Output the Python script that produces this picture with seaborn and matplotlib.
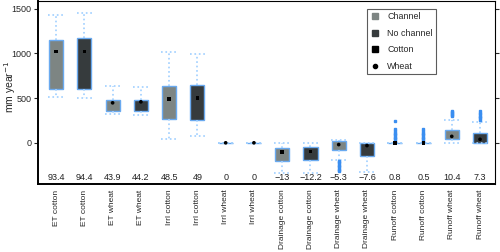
import numpy as np
import pandas as pd
import matplotlib
matplotlib.use("Agg")
import matplotlib.pyplot as plt
import seaborn as sns
from matplotlib.lines import Line2D

categories = ["ET cotton", "ET cotton", "ET wheat", "ET wheat",
              "Irrl cotton", "Irrl cotton", "Irrl wheat", "Irrl wheat",
              "Drainage cotton", "Drainage cotton", "Drainage wheat", "Drainage wheat",
              "Runoff cotton", "Runoff cotton", "Runoff wheat", "Runoff wheat"]
channel = ["Channel", "No channel"] * 8
crop = ["Cotton", "Cotton", "Wheat", "Wheat", "Cotton", "Cotton", "Wheat", "Wheat",
        "Cotton", "Cotton", "Wheat", "Wheat", "Cotton", "Cotton", "Wheat", "Wheat"]

whislo = [513, 505, 320, 309, 42, 76, 0, 0, -339, -339, -191, -331, 0, 0, 0, 0]
q1 = [605, 605, 361, 361, 261, 250, 0, 0, -202, -194, -80, -153, 0, 0, 39, 0]
q3 = [1150, 1175, 483, 483, 639, 647, 0, 0, -53, -46, 20, -6, 0, 0, 142, 106]
whishi = [1431, 1453, 639, 620, 1020, 994, 0, 0, -6, -6, 28, -6, 0, 0, 253, 235]
means = [1020, 1020, 447, 458, 491, 498, 0, 0, -106, -98, -20, -31, 0, 0, 72, 39]
fliers = [[], [], [], [], [], [], [], [],
          [], [], [-200, -215, -230, -245, -260, -275, -290, -305, -313], [],
          [10, 25, 40, 55, 70, 85, 100, 115, 130, 150, 240],
          [10, 25, 40, 55, 70, 85, 100, 115, 130, 150],
          [300, 310, 320, 330, 340, 353],
          [260, 275, 290, 305, 320, 335, 353]]
annot = ["93.4", "94.4", "43.9", "44.2", "48.5", "49", "0", "0",
         "\u221213", "\u221212.2", "\u22125.3", "\u22127.6", "0.8", "0.5", "10.4", "7.3"]

fill_colors = {"Channel": "#7d8583", "No channel": "#363b3d"}
edge_blue = "#6aaaf0"
whisk_blue = "#9fcfff"

sns.set_style("ticks")
plt.rcParams["font.family"] = ["Liberation Sans", "DejaVu Sans"]

fig = plt.figure(figsize=(5, 2.52), dpi=100)
ax = fig.add_axes([0.076, 0.27, 0.914, 0.726])

stats = []
for i in range(len(categories)):
    stats.append(dict(whislo=whislo[i], q1=q1[i], med=means[i], q3=q3[i],
                      whishi=whishi[i], fliers=fliers[i], mean=means[i]))

bp = ax.bxp(stats, positions=range(len(categories)), widths=0.5, capwidths=0.55,
            patch_artist=True, showfliers=True,
            boxprops=dict(edgecolor=edge_blue, linewidth=1.0),
            whiskerprops=dict(color=whisk_blue, linestyle=":", linewidth=1.2),
            capprops=dict(color=whisk_blue, linestyle=":", linewidth=1.2),
            medianprops=dict(linewidth=0),
            flierprops=dict(marker="s", markersize=1.6, markerfacecolor="#3a8ef0",
                            markeredgecolor="#3a8ef0"))
for patch, ch in zip(bp["boxes"], channel):
    patch.set_facecolor(fill_colors[ch])

df = pd.DataFrame({"x": range(len(categories)), "mean": means, "crop": crop})
sns.scatterplot(data=df, x="x", y="mean", style="crop", markers={"Cotton": "s", "Wheat": "o"},
                color="black", s=7, linewidth=0, legend=False, ax=ax, zorder=5)

for i, t in enumerate(annot):
    ax.text(i, 0.01, t, transform=ax.get_xaxis_transform(), ha="center", va="bottom",
            fontsize=6.5, color="#222222")

ax.set_xlim(-0.64, len(categories) - 0.47)
ax.set_ylim(-460, 1585)
ax.set_yticks([0, 500, 1000, 1500])
ax.set_xticks(range(len(categories)))
ax.set_xticklabels(categories, rotation=90, fontsize=6.0)
ax.tick_params(axis="x", length=0, pad=4)
ax.tick_params(axis="y", labelsize=6.5, length=3, right=True, width=0.8, pad=1.5)
ax.set_xlabel("")
ax.set_ylabel("mm year$^{-1}$", fontsize=7.5)
ax.yaxis.set_label_coords(-0.043, 0.53)
for s in ["left", "bottom"]:
    ax.spines[s].set_linewidth(1.4)
for s in ["top", "right"]:
    ax.spines[s].set_linewidth(0.8)
for s in ax.spines.values():
    s.set_color("black")

handles = [
    Line2D([], [], marker="s", linestyle="none", color=fill_colors["Channel"], markersize=4.5),
    Line2D([], [], marker="s", linestyle="none", color=fill_colors["No channel"], markersize=4.5),
    Line2D([], [], marker="s", linestyle="none", color="black", markersize=4.5),
    Line2D([], [], marker="o", linestyle="none", color="black", markersize=3),
]
leg = ax.legend(handles, ["Channel", "No channel", "Cotton", "Wheat"],
                loc="upper left", bbox_to_anchor=(0.72, 0.956), fontsize=6.4,
                frameon=True, fancybox=False, edgecolor="#333333", handlelength=1.0,
                handletextpad=0.9, labelspacing=0.85, borderpad=0.35, borderaxespad=0)
leg.get_frame().set_linewidth(0.8)

fig.savefig("out.png", dpi=100)
